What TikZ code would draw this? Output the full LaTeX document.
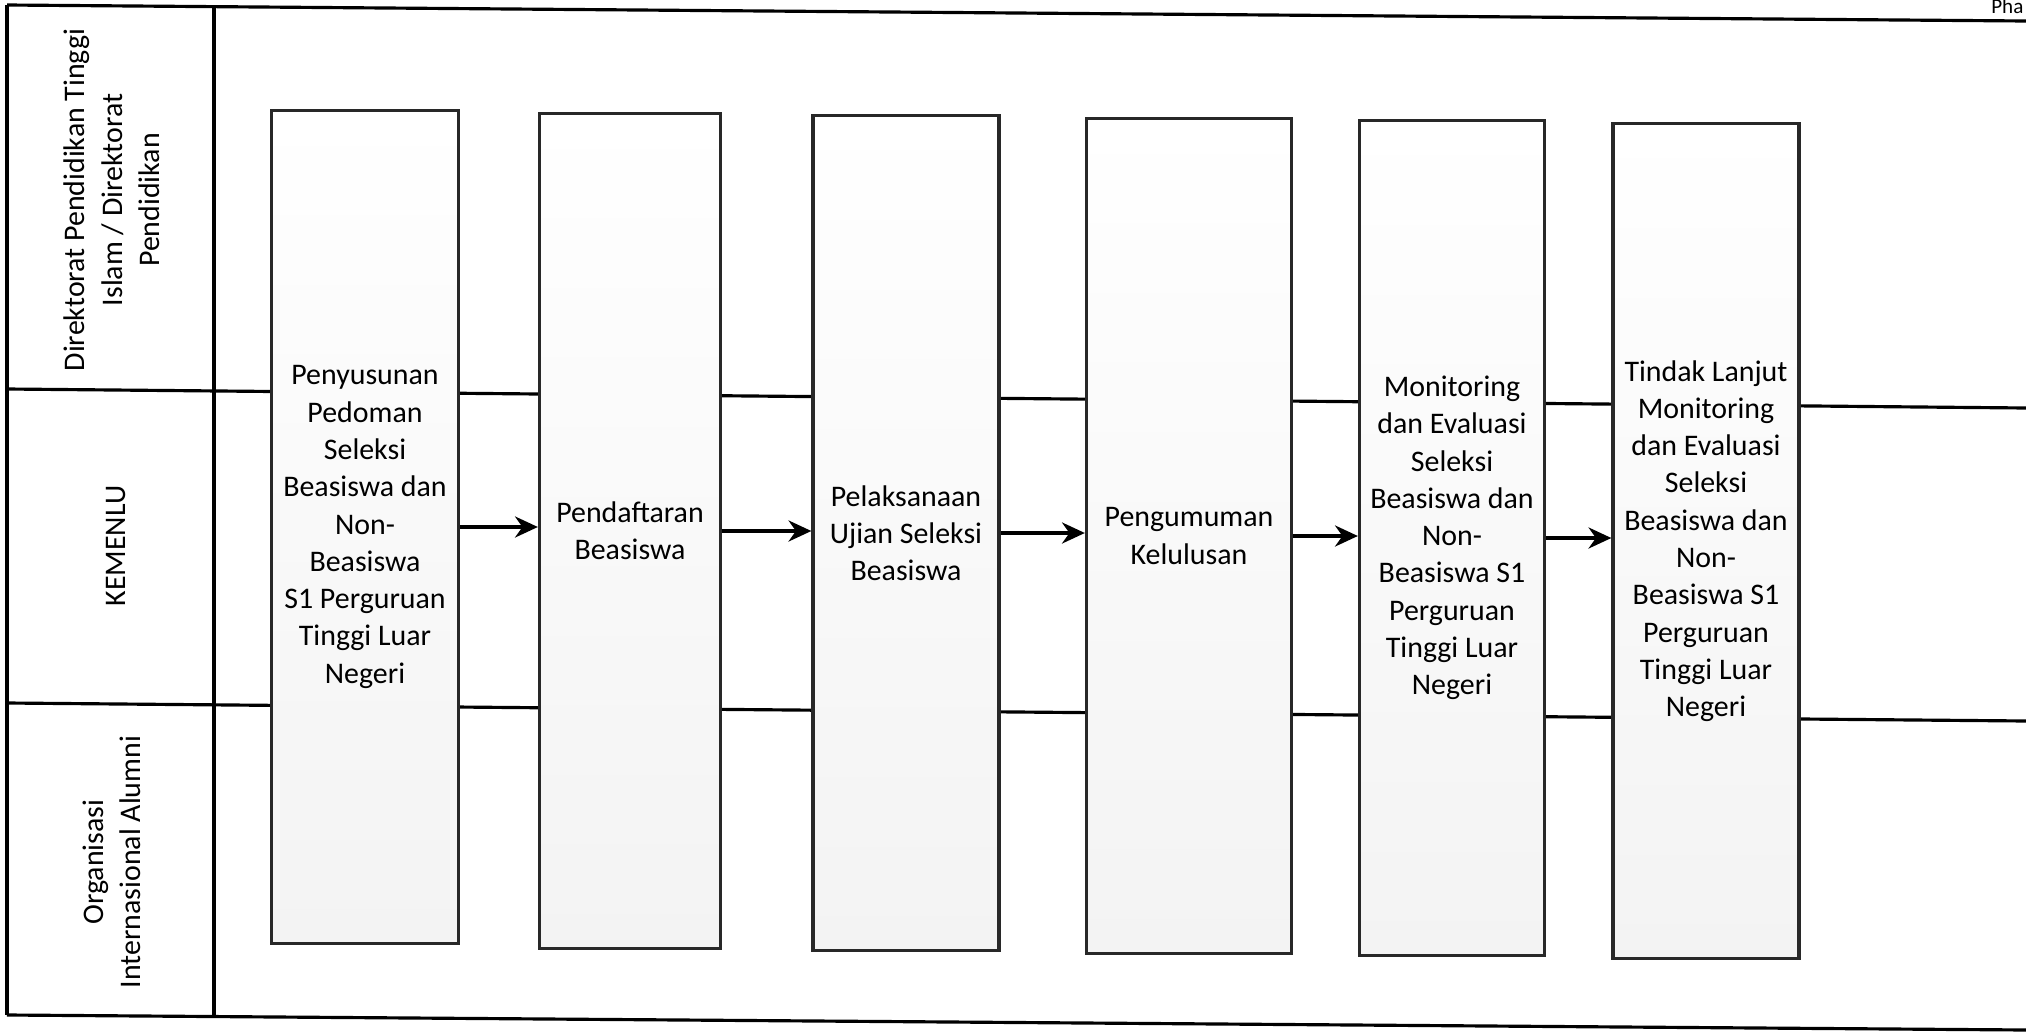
\documentclass[tikz,border=0pt]{standalone}
\usepackage{fontspec}
\setmainfont{Carlito}
\usepackage{tikz}
\usetikzlibrary{arrows.meta, positioning, calc}
\definecolor{boxline}{RGB}{40, 40, 40}
\definecolor{boxfill}{RGB}{243, 243, 243}

\begin{document}
\begin{tikzpicture}[x=0.01cm, y=-0.01cm, >={Stealth[length=6.5pt, width=6pt]}, line width=0.9pt,
    font=\fontsize{8.5}{10.6}\selectfont,
    procbox/.style={draw=boxline, top color=white, bottom color=boxfill, align=center, inner sep=1pt},
    lanelbl/.style={rotate=90, align=center}]
      \useasboundingbox (0,0) rectangle (2026,1033);
      % frame and lanes
      \draw (7,5) -- (2026,21);
      \draw (7,1015) -- (2026,1030);
      \draw (7,5) -- (7,1015);
      \draw (214,7) -- (214,1017);
      \draw (7,389) -- (2026,408);
      \draw (7,703) -- (2026,721);
      \node[lanelbl] (lane1) at (112,200) {Direktorat Pendidikan Tinggi\\Islam / Direktorat\\Pendidikan};
      \node[lanelbl] (lane2) at (116,546) {KEMENLU};
      \node[lanelbl] (lane3) at (112,862) {Organisasi\\Internasional Alumni};
      \node[anchor=base east, inner sep=0pt, font=\fontsize{6}{7}\selectfont] (pha) at (2025,13) {Pha};
      % process steps
      \node[procbox, minimum width=1.87cm, minimum height=8.32cm] (b1) at (365,527) {Penyusunan\\Pedoman\\Seleksi\\Beasiswa dan\\Non-\\Beasiswa\\S1 Perguruan\\Tinggi Luar\\Negeri};
      \node[procbox, minimum width=1.81cm, minimum height=8.34cm] (b2) at (630,531) {Pendaftaran\\Beasiswa};
      \node[procbox, minimum width=1.86cm, minimum height=8.35cm] (b3) at (906,533) {Pelaksanaan\\Ujian Seleksi\\Beasiswa};
      \node[procbox, minimum width=2.05cm, minimum height=8.34cm] (b4) at (1189,536) {Pengumuman\\Kelulusan};
      \node[procbox, minimum width=1.85cm, minimum height=8.35cm] (b5) at (1452,538) {Monitoring\\dan Evaluasi\\Seleksi\\Beasiswa dan\\Non-\\Beasiswa S1\\Perguruan\\Tinggi Luar\\Negeri};
      \node[procbox, minimum width=1.86cm, minimum height=8.35cm] (b6) at (1706,541) {Tindak Lanjut\\Monitoring\\dan Evaluasi\\Seleksi\\Beasiswa dan\\Non-\\Beasiswa S1\\Perguruan\\Tinggi Luar\\Negeri};
      \draw[->] (b1) -- (b1 -| b2.west);
      \draw[->] (b2) -- (b2 -| b3.west);
      \draw[->] (b3) -- (b3 -| b4.west);
      \draw[->] (b4) -- (b4 -| b5.west);
      \draw[->] (b5) -- (b5 -| b6.west);
    \end{tikzpicture}
\end{document}
